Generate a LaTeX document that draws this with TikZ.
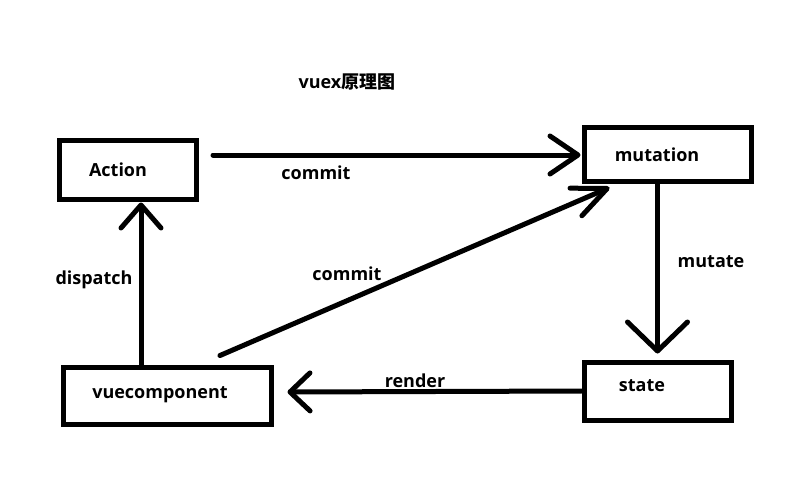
\documentclass[tikz,border=0pt]{standalone}
\usepackage{fontspec}
\setmainfont{Open Sans}
\newfontfamily\cjkfont{Noto Sans CJK SC}
\usetikzlibrary{arrows.meta,calc}

\begin{document}
\begin{tikzpicture}[x=1pt,y=-1pt,
  font=\bfseries\fontsize{18}{21}\selectfont,
  stagebox/.style={draw,line width=5pt,minimum width=#1,inner sep=0pt},
  stagetext/.style={inner sep=0pt},
  flowlabel/.style={inner sep=0pt},
  flow/.style={draw,line width=5pt,line cap=round}]
  \fill[white] (0,0) rectangle (803,487);
  \path[use as bounding box] (0,0) rectangle (803,487);

  \node[flowlabel] (title) at (347,82) {vuex{\cjkfont 原理图}};

  % the four stages of the store
  \node[stagebox=137,minimum height=59] (action) at (128,169.5) {};
  \node[stagebox=167,minimum height=54] (mutation) at (667.5,154) {};
  \node[stagebox=147,minimum height=58] (state) at (657.5,391) {};
  \node[stagebox=208,minimum height=57] (vuecomponent) at (167,395.5) {};
  \node[stagetext] (actiontext) at (118,170) {Action};
  \node[stagetext] (mutationtext) at (657,155) {mutation};
  \node[stagetext] (statetext) at (642,386) {state};
  \node[stagetext] (vuecomponenttext) at (160,395) {vuecomponent};

  % connector ends that sit off the box borders
  \coordinate (commitstart) at ($(action.east |- mutation.west)+(14,1)$);
  \coordinate (commitend) at ($(mutation.west)+(-1,1)$);
  \coordinate (directstart) at ($(vuecomponent.north)+(53,-9)$);
  \coordinate (directend) at ($(mutation.south west)+(28,4)$);
  \coordinate (mutatestart) at (state.north |- mutation.south);
  \coordinate (mutateend) at ($(state.north)+(0,-6)$);
  \coordinate (renderend) at ($(vuecomponent.east |- state.west)+(14,1)$);
  \coordinate (dispatchend) at ($(action.south)+(13,1)$);
  \coordinate (dispatchstart) at (vuecomponent.north -| dispatchend);

  \draw[flow,-{Straight Barb[length=28pt,width=38pt,round]}] (commitstart) -- (commitend);
  \draw[flow,-{Straight Barb[length=34pt,width=30pt,round]}] (directstart) -- (directend);
  \draw[flow,-{Straight Barb[length=29pt,width=60pt,round]}] (mutatestart) -- (mutateend);
  \draw[flow,-{Straight Barb[length=20pt,width=38pt,round]}] (state.west) -- (renderend);
  \draw[flow,-{Straight Barb[length=23pt,width=40pt,round]}] (dispatchstart) -- (dispatchend);

  \node[flowlabel] (commitlabel) at (316,173) {commit};
  \node[flowlabel] (directlabel) at (347,274) {commit};
  \node[flowlabel] (mutatelabel) at (711,262) {mutate};
  \node[flowlabel] (renderlabel) at (415,381) {render};
  \node[flowlabel] (dispatchlabel) at (94,280) {dispatch};
\end{tikzpicture}
\end{document}
